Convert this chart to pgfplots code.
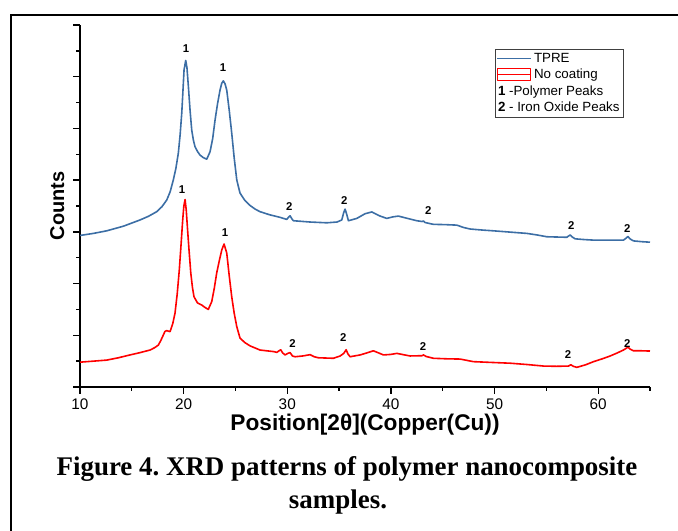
\documentclass[border=0pt]{standalone}
\usepackage{pgfplots}
\pgfplotsset{compat=1.18}
\usepackage{fontspec}
\setmainfont{Liberation Sans}
\newfontfamily\capfont{Liberation Serif}
\definecolor{tpre}{RGB}{60,110,165}
\frenchspacing

\begin{document}
\begin{tikzpicture}[peak/.style={font=\fontsize{8.5}{10}\selectfont\bfseries, text=black}]
\useasboundingbox (0,0) rectangle (508.5pt,398.25pt);
% outer frame, cut at right and bottom
\draw[line width=1.4pt] (8.25pt,0) -- (8.25pt,387pt) -- (508.5pt,387pt);

\begin{axis}[
  at={(60pt,108pt)}, anchor=south west,
  scale only axis, width=427.5pt, height=271.5pt,
  xmin=10, xmax=65, ymin=0, ymax=14,
  axis x line=bottom, axis y line=left,
  axis line style={-, line width=1.1pt},
  tick style={black, line width=1pt},
  tick align=outside,
  major tick length=5pt, minor tick length=3pt,
  xtick={10,20,...,60}, minor xtick={15,25,...,65},
  ytick={0,2,...,14}, minor ytick={1,3,...,13},
  yticklabels={},
  ticklabel style={font=\fontsize{11.5}{13}\selectfont},
  /pgf/number format/assume math mode=true,
  xlabel={Position[2θ](Copper(Cu))},
  xlabel style={font=\fontsize{17}{19}\selectfont\bfseries, at={(axis description cs:0.5,-0.1215)}, anchor=base},
  ylabel={Counts},
  ylabel style={font=\fontsize{15}{17}\selectfont\bfseries, at={(axis description cs:-0.04,0.5)}, anchor=center},
  legend style={at={(axis description cs:0.728,0.934)}, anchor=north west,
    draw=black!75, line width=0.6pt, font=\fontsize{10}{11}\selectfont,
    inner sep=1pt, row sep=0pt, nodes={inner xsep=2pt, inner ysep=1.8pt}},
  legend cell align=left,
]
\addplot[tpre, line width=1.2pt, line join=round,
  legend image code/.code={\draw[tpre, line width=0.9pt] (0pt,0pt) -- (25pt,0pt);}]
coordinates {
(10.00,5.86) (11.3,5.94) (12.58,6.04) (14.2,6.22) (15.79,6.46) (16.6,6.60) (17.40,6.78)
(17.9,6.97) (18.37,7.23) (18.7,7.55) (19.00,8.00) (19.25,8.45) (19.49,9.05) (19.66,9.75)
(19.82,10.60) (19.94,11.50) (20.04,12.26) (20.20,12.63) (20.32,12.35) (20.46,11.61)
(20.62,10.70) (20.78,9.94) (20.94,9.55) (21.10,9.29) (21.35,9.10) (21.58,8.97) (21.90,8.87)
(22.23,8.81) (22.55,9.10) (22.80,9.60) (23.03,10.32) (23.27,10.95) (23.51,11.48) (23.68,11.75)
(23.83,11.84) (24.00,11.72) (24.16,11.48) (24.40,10.70) (24.64,9.82) (24.88,8.85) (25.13,8.00)
(25.44,7.50) (25.9,7.22) (26.41,7.02) (26.9,6.88) (27.37,6.78) (28.3,6.66) (29.31,6.56)
(29.95,6.48) (30.15,6.58) (30.27,6.62) (30.45,6.50) (30.59,6.43) (32.2,6.38) (33.81,6.35)
(34.8,6.38) (35.26,6.46) (35.45,6.75) (35.58,6.88) (35.72,6.70) (35.90,6.43) (36.71,6.52)
(37.5,6.70) (38.16,6.77) (38.9,6.62) (39.60,6.52) (40.2,6.58) (40.72,6.61) (41.6,6.52)
(42.50,6.43) (43.0,6.40) (43.14,6.42) (43.3,6.36) (44.10,6.29) (45.2,6.28) (46.36,6.26)
(47.0,6.17) (47.64,6.11) (48.8,6.07) (49.89,6.04) (51.5,5.99) (53.12,5.94) (54.1,5.88)
(55.05,5.81) (56.0,5.80) (56.97,5.79) (57.15,5.84) (57.30,5.88) (57.5,5.80) (57.78,5.73)
(58.7,5.70) (59.55,5.68) (61.0,5.68) (62.44,5.68) (62.70,5.76) (62.87,5.82) (63.10,5.72)
(63.41,5.65) (64.2,5.62) (65.0,5.60)
};
\addlegendentry{TPRE}

\addplot[red, line width=1.2pt, line join=round,
  legend image code/.code={\draw[red, line width=0.5pt] (0pt,-4.5pt) rectangle (25pt,4.5pt);
    \draw[red, line width=1pt] (0pt,0pt) -- (25pt,0pt);}]
coordinates {
(10.00,0.96) (11.3,1.00) (12.58,1.04) (13.7,1.13) (14.83,1.24) (15.8,1.33) (16.76,1.43)
(17.2,1.52) (17.56,1.62) (17.8,1.80) (18.04,2.01) (18.2,2.15) (18.37,2.18) (18.69,2.14)
(18.95,2.45) (19.17,2.86) (19.38,3.60) (19.58,4.52) (19.75,5.50) (19.91,6.46) (20.02,7.00)
(20.14,7.25) (20.25,6.85) (20.36,6.20) (20.52,5.30) (20.69,4.41) (20.85,3.85) (21.00,3.49)
(21.34,3.25) (21.75,3.17) (22.05,3.08) (22.38,3.00) (22.71,3.30) (22.95,3.80) (23.19,4.41)
(23.45,4.90) (23.68,5.30) (23.90,5.53) (24.16,5.18) (24.40,4.30) (24.64,3.49) (24.88,2.85)
(25.13,2.33) (25.44,1.89) (25.9,1.72) (26.41,1.59) (27.37,1.43) (28.0,1.40) (28.66,1.37)
(29.0,1.34) (29.2,1.40) (29.37,1.44) (29.55,1.32) (29.79,1.24) (30.05,1.30) (30.27,1.33)
(30.5,1.20) (30.75,1.17) (31.5,1.20) (32.2,1.25) (32.6,1.17) (33.00,1.13) (34.45,1.11)
(35.10,1.20) (35.45,1.30) (35.68,1.44) (35.85,1.28) (36.06,1.17) (37.03,1.24) (37.7,1.32)
(38.31,1.40) (38.8,1.32) (39.28,1.24) (40.0,1.26) (40.57,1.30) (41.2,1.25) (41.85,1.20)
(43.0,1.21) (43.14,1.24) (43.4,1.18) (44.10,1.11) (45.4,1.09) (46.68,1.08) (47.96,0.98)
(49.7,0.95) (51.51,0.92) (53.1,0.87) (54.72,0.81) (56.0,0.80) (57.13,0.81) (57.36,0.86)
(57.6,0.80) (57.94,0.76) (58.8,0.86) (59.55,0.98) (60.4,1.09) (61.16,1.20) (61.8,1.31)
(62.44,1.43) (62.87,1.54) (63.1,1.46) (63.41,1.40) (64.2,1.40) (65.0,1.39)
};
\addlegendentry{No coating}
\addlegendimage{empty legend}
\addlegendentry{\hspace*{-27pt}\textbf{1} -Polymer Peaks}
\addlegendimage{empty legend}
\addlegendentry{\hspace*{-27pt}\textbf{2} - Iron Oxide Peaks}

% peak markers
\node[peak] at (axis cs:20.23,13.1) {1};
\node[peak] at (axis cs:23.8,12.37) {1};
\node[peak] at (axis cs:19.85,7.62) {1};
\node[peak] at (axis cs:24.0,5.96) {1};
\node[peak] at (axis cs:30.2,6.97) {2};
\node[peak] at (axis cs:35.5,7.23) {2};
\node[peak] at (axis cs:43.6,6.81) {2};
\node[peak] at (axis cs:57.4,6.26) {2};
\node[peak] at (axis cs:62.8,6.14) {2};
\node[peak] at (axis cs:30.5,1.69) {2};
\node[peak] at (axis cs:35.4,1.91) {2};
\node[peak] at (axis cs:43.1,1.56) {2};
\node[peak] at (axis cs:57.1,1.26) {2};
\node[peak] at (axis cs:62.8,1.69) {2};
\end{axis}

\node[anchor=base, font=\capfont\fontsize{20.2}{24}\selectfont\bfseries] at (260.25pt,41.25pt)
  {Figure 4. XRD patterns of polymer nanocomposite};
\node[anchor=base, font=\capfont\fontsize{20.2}{24}\selectfont\bfseries] at (253.5pt,16.5pt)
  {samples.};
\end{tikzpicture}
\end{document}
